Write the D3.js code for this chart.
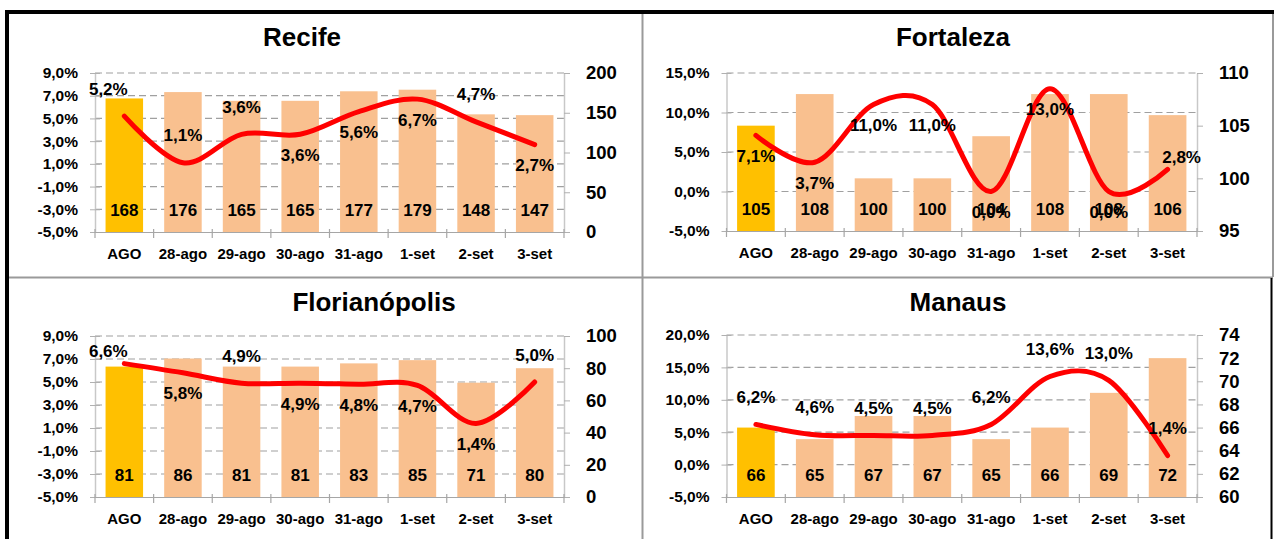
<!DOCTYPE html>
<html>
<head>
<meta charset="utf-8">
<script src="https://cdn.jsdelivr.net/npm/d3@7"></script>
<style>
  html, body { margin: 0; padding: 0; background: #fff; }
  svg { display: block; }
  text { font-family: "Liberation Sans", Arial, sans-serif; font-weight: bold; fill: #000; }
</style>
</head>
<body>
<svg id="chart" width="1277" height="539"></svg>
<script>
// ---------- data ----------
const categories = ["AGO", "28-ago", "29-ago", "30-ago", "31-ago", "1-set", "2-set", "3-set"];

const recifeBars = [168, 176, 165, 165, 177, 179, 148, 147];
const recifeRate = [5.2, 1.1, 3.6, 3.6, 5.6, 6.7, 4.7, 2.7];
const recifeLeftTicks = [-5, -3, -1, 1, 3, 5, 7, 9];
const recifeRightTicks = [0, 50, 100, 150, 200];
const recifeLabelPos = ["al", "a", "a", "b", "b", "b", "a", "b"];

const fortalezaBars = [105, 108, 100, 100, 104, 108, 108, 106];
const fortalezaRate = [7.1, 3.7, 11.0, 11.0, 0.0, 13.0, 0.0, 2.8];
const fortalezaLeftTicks = [-5, 0, 5, 10, 15];
const fortalezaRightTicks = [95, 100, 105, 110];
const fortalezaLabelPos = ["b", "b", "b", "b", "b", "b", "b", "r"];

const florianopolisBars = [81, 86, 81, 81, 83, 85, 71, 80];
const florianopolisRate = [6.6, 5.8, 4.9, 4.9, 4.8, 4.7, 1.4, 5.0];
const florianopolisLeftTicks = [-5, -3, -1, 1, 3, 5, 7, 9];
const florianopolisRightTicks = [0, 20, 40, 60, 80, 100];
const florianopolisLabelPos = ["l", "b", "a", "b", "b", "b", "b", "a"];

const manausBars = [66, 65, 67, 67, 65, 66, 69, 72];
const manausRate = [6.2, 4.6, 4.5, 4.5, 6.2, 13.6, 13.0, 1.4];
const manausLeftTicks = [-5, 0, 5, 10, 15, 20];
const manausRightTicks = [60, 62, 64, 66, 68, 70, 72, 74];
const manausLabelPos = ["a", "a", "a", "a", "a", "a", "a", "a"];

// ---------- layout ----------
const panels = [
  { title: "Recife", bars: recifeBars, rate: recifeRate, leftTicks: recifeLeftTicks, rightTicks: recifeRightTicks,
    labelPos: recifeLabelPos, x0: 95, x1: 564, y0: 73, y1: 232, tx: 302, ty: 37 },
  { title: "Fortaleza", bars: fortalezaBars, rate: fortalezaRate, leftTicks: fortalezaLeftTicks, rightTicks: fortalezaRightTicks,
    labelPos: fortalezaLabelPos, x0: 726.5, x1: 1197, y0: 73, y1: 231, tx: 953, ty: 37 },
  { title: "Florianópolis", bars: florianopolisBars, rate: florianopolisRate, leftTicks: florianopolisLeftTicks, rightTicks: florianopolisRightTicks,
    labelPos: florianopolisLabelPos, x0: 95, x1: 564, y0: 336, y1: 497, tx: 374, ty: 302 },
  { title: "Manaus", bars: manausBars, rate: manausRate, leftTicks: manausLeftTicks, rightTicks: manausRightTicks,
    labelPos: manausLabelPos, x0: 726.5, x1: 1197, y0: 335, y1: 497, tx: 958, ty: 302 }
];

const placement = {
  a:  { dx: 0,   dy: -27 },
  b:  { dx: 0,   dy: 21 },
  al: { dx: -16, dy: -27 },
  l:  { dx: -16, dy: -12 },
  r:  { dx: 14,  dy: -12 }
};

const pct = v => v.toFixed(1).replace(".", ",") + "%";

const svg = d3.select("#chart");

// ---------- frame ----------
const frame = svg.append("g");
frame.append("line").attr("x1", 642.5).attr("x2", 642.5).attr("y1", 13).attr("y2", 539)
  .attr("stroke", "#9a9a9a").attr("stroke-width", 2);
frame.append("line").attr("x1", 8).attr("x2", 1273).attr("y1", 277.5).attr("y2", 277.5)
  .attr("stroke", "#9a9a9a").attr("stroke-width", 2);
frame.append("line").attr("x1", 1273).attr("x2", 1273).attr("y1", 12).attr("y2", 277)
  .attr("stroke", "#9a9a9a").attr("stroke-width", 2);
frame.append("line").attr("x1", 1271.5).attr("x2", 1271.5).attr("y1", 278).attr("y2", 539)
  .attr("stroke", "#000").attr("stroke-width", 2);
frame.append("line").attr("x1", 8).attr("x2", 8).attr("y1", 14).attr("y2", 539)
  .attr("stroke", "#bbb").attr("stroke-width", 2);
frame.append("line").attr("x1", 5).attr("x2", 1274).attr("y1", 12).attr("y2", 12)
  .attr("stroke", "#000").attr("stroke-width", 4);
frame.append("line").attr("x1", 7).attr("x2", 7).attr("y1", 10).attr("y2", 539)
  .attr("stroke", "#000").attr("stroke-width", 4);

// ---------- panels ----------
panels.forEach(p => {
  const g = svg.append("g");
  const x = d3.scaleBand().domain(categories).range([p.x0, p.x1]).paddingInner(0.36).paddingOuter(0.18);
  const cx = c => x(c) + x.bandwidth() / 2;
  const yL = d3.scaleLinear().domain(d3.extent(p.leftTicks)).range([p.y1, p.y0]);
  const yR = d3.scaleLinear().domain(d3.extent(p.rightTicks)).range([p.y1, p.y0]);

  // gridlines
  g.append("g").selectAll("line").data(p.leftTicks.slice(1)).join("line")
    .attr("x1", p.x0).attr("x2", p.x1)
    .attr("y1", d => yL(d)).attr("y2", d => yL(d))
    .attr("stroke", "#a0a0a0").attr("stroke-width", 1.2).attr("stroke-dasharray", "7,4");

  // bars
  g.append("g").selectAll("rect").data(p.bars).join("rect")
    .attr("x", (d, i) => x(categories[i]))
    .attr("width", x.bandwidth())
    .attr("y", d => yR(d))
    .attr("height", d => p.y1 - yR(d))
    .attr("fill", (d, i) => i === 0 ? "#FFC000" : "#F9C08F");

  // left axis
  const la = g.append("g").attr("transform", `translate(${p.x0},0)`)
    .call(d3.axisLeft(yL).tickValues(p.leftTicks).tickFormat(pct).tickSize(5).tickSizeOuter(0).tickPadding(12));
  la.select(".domain").attr("stroke", "#c8c8c8").attr("stroke-width", 1.5);
  la.selectAll(".tick line").attr("x1", 5).attr("stroke", "#b0b0b0");
  la.selectAll("text").style("font-size", "15.5px");

  // right axis
  const ra = g.append("g").attr("transform", `translate(${p.x1},0)`)
    .call(d3.axisRight(yR).tickValues(p.rightTicks).tickFormat(d3.format("d")).tickSize(6).tickSizeOuter(0).tickPadding(16));
  ra.select(".domain").attr("stroke", "#c8c8c8").attr("stroke-width", 1.5);
  ra.selectAll(".tick line").attr("stroke", "#b0b0b0");
  ra.selectAll("text").style("font-size", "18.5px");

  // bottom axis
  const ba = g.append("g").attr("transform", `translate(0,${p.y1})`)
    .call(d3.axisBottom(x).tickSize(0).tickPadding(16));
  ba.select(".domain").attr("stroke", "#a6a6a6").attr("stroke-width", 1.2);
  ba.selectAll("text").style("font-size", "15px");
  const step = x.step();
  g.append("g").selectAll("line").data(d3.range(categories.length + 1)).join("line")
    .attr("x1", i => p.x0 + i * step).attr("x2", i => p.x0 + i * step)
    .attr("y1", p.y1 - 3).attr("y2", p.y1 + 6)
    .attr("stroke", "#a6a6a6").attr("stroke-width", 1.2);

  // bar labels
  g.append("g").selectAll("text").data(p.bars).join("text")
    .attr("x", (d, i) => cx(categories[i]))
    .attr("y", p.y1 - 22)
    .attr("text-anchor", "middle").attr("dominant-baseline", "central")
    .style("font-size", "17px")
    .text(d => d);

  // line
  const line = d3.line()
    .x((d, i) => cx(categories[i]))
    .y(d => yL(d))
    .curve(d3.curveCardinal.tension(0));
  g.append("path").datum(p.rate)
    .attr("d", line)
    .attr("fill", "none").attr("stroke", "#FF0000").attr("stroke-width", 5)
    .attr("stroke-linecap", "round").attr("stroke-linejoin", "round");

  // line labels
  g.append("g").selectAll("text").data(p.rate).join("text")
    .attr("x", (d, i) => cx(categories[i]) + placement[p.labelPos[i]].dx)
    .attr("y", (d, i) => yL(d) + placement[p.labelPos[i]].dy)
    .attr("text-anchor", "middle").attr("dominant-baseline", "central")
    .style("font-size", "17px")
    .text(pct);

  // title
  g.append("text").attr("x", p.tx).attr("y", p.ty)
    .attr("text-anchor", "middle").attr("dominant-baseline", "central")
    .style("font-size", "26px")
    .text(p.title);
});
</script>
</body>
</html>
